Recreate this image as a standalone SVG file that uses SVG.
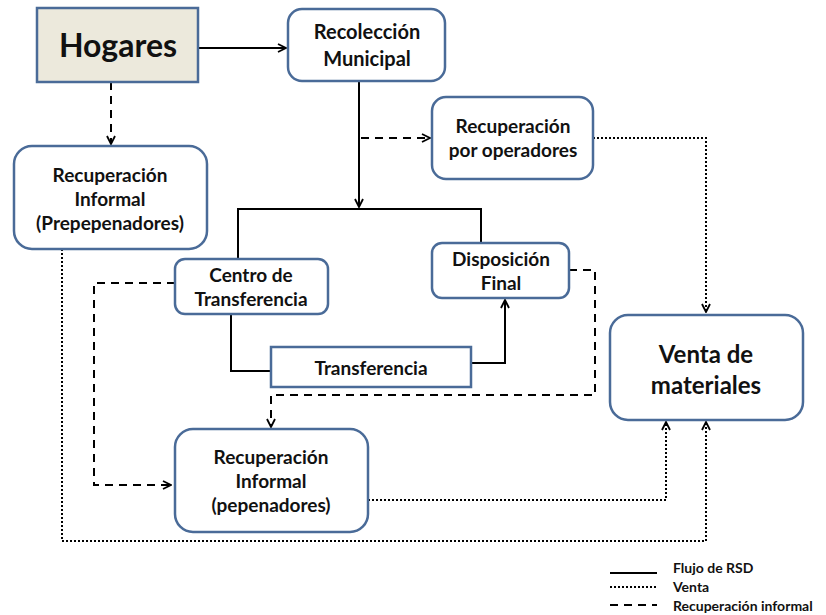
<svg xmlns="http://www.w3.org/2000/svg" width="826" height="615" viewBox="0 0 826 615">
<defs>
<marker id="arr" viewBox="0 0 10 10" refX="9" refY="5" markerWidth="10" markerHeight="10" markerUnits="userSpaceOnUse" orient="auto">
<path d="M1,1 L9,5 L1,9" fill="none" stroke="#000" stroke-width="1.8"/>
</marker>
<style>
.box{fill:#fff;stroke:#4a6b98;stroke-width:2.5}
.t{font-family:Lato,"Open Sans","Liberation Sans",sans-serif;font-weight:bold;fill:#111;text-anchor:middle}
.l{font-family:Lato,"Open Sans","Liberation Sans",sans-serif;font-weight:bold;fill:#111;font-size:14px}
.solid{fill:none;stroke:#000;stroke-width:2}
.dash{fill:none;stroke:#000;stroke-width:2;stroke-dasharray:8,6}
.dot{fill:none;stroke:#000;stroke-width:2;stroke-dasharray:2,2}
</style>
</defs>
<rect width="826" height="615" fill="#fff"/>
<g id="connectors">
<path class="solid" d="M198,48 H286" marker-end="url(#arr)"/>
<path class="dash" d="M111,82 V144" marker-end="url(#arr)"/>
<path class="solid" d="M359,81 V207" marker-end="url(#arr)"/>
<path class="dash" d="M361,138 H430" marker-end="url(#arr)"/>
<path class="dot" d="M593,138 H706 V312" marker-end="url(#arr)"/>
<path class="solid" d="M238,259 V209 H481 V243"/>
<path class="solid" d="M231,314 V371 H271"/>
<path class="solid" d="M471,363 H505 V300" marker-end="url(#arr)"/>
<path class="dash" d="M175,283 H94 V485 H171" marker-end="url(#arr)"/>
<path class="dash" d="M569,270 H595 V395 H271 V427" marker-end="url(#arr)"/>
<path class="dot" d="M368,500 H666 V422" marker-end="url(#arr)"/>
<path class="dot" d="M62,249 V541 H706 V422" marker-end="url(#arr)"/>
</g>
<g id="hogares">
<rect x="37" y="8" width="161" height="74" fill="#ece9dc" stroke="#4a6b98" stroke-width="2.5"/>
<text class="t" x="118" y="57" font-size="32">Hogares</text>
</g>
<g id="recoleccion">
<rect class="box" x="288" y="9" width="157" height="72" rx="14"/>
<text class="t" x="367" y="39" font-size="20">Recolección</text>
<text class="t" x="367" y="66" font-size="20">Municipal</text>
</g>
<g id="prepepenadores">
<rect class="box" x="14" y="146" width="193" height="103" rx="18"/>
<text class="t" x="110" y="182" font-size="19">Recuperación</text>
<text class="t" x="110" y="206" font-size="19">Informal</text>
<text class="t" x="110" y="230" font-size="19">(Prepepenadores)</text>
</g>
<g id="operadores">
<rect class="box" x="432" y="97" width="161" height="82" rx="14"/>
<text class="t" x="513" y="133" font-size="19">Recuperación</text>
<text class="t" x="513" y="157" font-size="19">por operadores</text>
</g>
<g id="centro">
<rect class="box" x="175" y="259" width="153" height="55" rx="10"/>
<text class="t" x="251" y="282" font-size="19">Centro de</text>
<text class="t" x="251" y="306" font-size="19">Transferencia</text>
</g>
<g id="disposicion">
<rect class="box" x="432" y="243" width="137" height="55" rx="10"/>
<text class="t" x="501" y="266" font-size="19">Disposición</text>
<text class="t" x="501" y="290" font-size="19">Final</text>
</g>
<g id="transferencia">
<rect class="box" x="271" y="347" width="200" height="40"/>
<text class="t" x="371" y="375" font-size="19">Transferencia</text>
</g>
<g id="pepenadores">
<rect class="box" x="175" y="429" width="193" height="103" rx="18"/>
<text class="t" x="271" y="464" font-size="19">Recuperación</text>
<text class="t" x="271" y="488" font-size="19">Informal</text>
<text class="t" x="271" y="512" font-size="19">(pepenadores)</text>
</g>
<g id="venta">
<rect class="box" x="610" y="315" width="193" height="105" rx="18"/>
<text class="t" x="706" y="363" font-size="24">Venta de</text>
<text class="t" x="706" y="394" font-size="24">materiales</text>
</g>
<g id="legend">
<line x1="610" y1="573" x2="657" y2="573" stroke="#000" stroke-width="2"/>
<line x1="610" y1="587" x2="657" y2="587" stroke="#000" stroke-width="2" stroke-dasharray="2,2"/>
<line x1="610" y1="605" x2="657" y2="605" stroke="#000" stroke-width="2" stroke-dasharray="8,6"/>
<text class="l" x="673" y="573">Flujo de RSD</text>
<text class="l" x="673" y="592">Venta</text>
<text class="l" x="673" y="611">Recuperación  informal</text>
</g>
</svg>
